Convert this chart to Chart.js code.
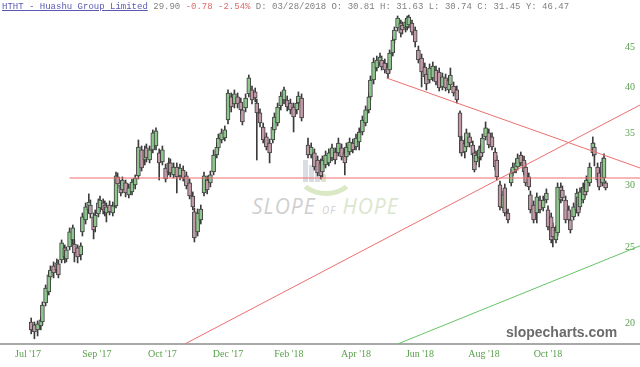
<!DOCTYPE html>
<html>
<head>
<meta charset="utf-8">
<script src="https://cdn.jsdelivr.net/npm/chart.js@4.4.1/dist/chart.umd.min.js"></script>
<style>
  html, body { margin: 0; padding: 0; background: #fff; }
  #wrap { position: relative; width: 640px; height: 367px; overflow: hidden; }
  #chart { position: absolute; left: 0; top: 0; z-index: 1; }
  #hdr { position: absolute; left: 2px; top: 2px; z-index: 3; white-space: pre;
         font: 9px "Liberation Mono", monospace; color: #808080; }
  #hdr .tk { color: #5a5ab4; text-decoration: underline; }
  #hdr .neg { color: #e06a6a; }
  #site { position: absolute; left: 506px; top: 324px; z-index: 3;
          font: bold 14px "Liberation Sans", Arial, sans-serif; color: #6b6b6b; }
  .wm { position: absolute; z-index: 0; }
  .wmbar { position: absolute; z-index: 0; background: #d9dde3; }
  #wmtext { position: absolute; left: 252px; top: 192px; z-index: 0; white-space: pre;
            font: italic 21px "Open Sans", sans-serif; color: #cfcfcf; letter-spacing: 1px; }
  #wmtext .of { font-size: 10px; }
  #wmtext .hope { color: #dbe6cf; }
</style>
</head>
<body>
<div id="wrap">
  <div class="wmbar" style="left:303px;top:160px;width:5px;height:22px"></div>
  <div class="wmbar" style="left:309px;top:165px;width:5px;height:17px"></div>
  <div class="wmbar" style="left:315px;top:170px;width:5px;height:12px"></div>
  <div class="wmbar" style="left:321px;top:174px;width:5px;height:8px;background:#e2e6c8"></div>
  <div class="wm" style="left:296px;top:150px;width:50px;height:36px;border:5px solid transparent;border-bottom-color:#dbe8c6;border-radius:50%"></div>
  <div id="wmtext">SLOPE <span class="of">OF</span> <span class="hope">HOPE</span></div>
  <canvas id="chart" width="640" height="367"></canvas>
  <div id="hdr"><span class="tk">HTHT - Huashu Group Limited</span> 29.90 <span class="neg">-0.78 -2.54%</span> D: 03/28/2018 O: 30.81 H: 31.63 L: 30.74 C: 31.45 Y: 46.47</div>
  <div id="site">slopecharts.com</div>
</div>
<script>
// trading day index of each candle (0 = first bar of Jul '17)
const days = [
  2, 4, 6, 8, 9, 11, 13, 14, 16, 18,
  19, 21, 23, 24, 26, 28, 29, 31, 33, 34,
  36, 38, 39, 41, 42, 44, 45, 47, 48, 49,
  51, 53, 55, 56, 58, 59, 61, 63, 65, 67,
  69, 71, 73, 74, 76, 78, 80, 82, 84, 86,
  88, 89, 91, 93, 95, 97, 99, 101, 103, 104,
  106, 108, 110, 112, 114, 116, 118, 119, 121, 123,
  125, 127, 129, 131, 133, 134, 136, 138, 140, 142,
  143, 145, 147, 149, 151, 153, 154, 156, 158, 160,
  162, 164, 166, 168, 169, 171, 175, 177, 179, 181,
  183, 184, 186, 188, 190, 192, 194, 196, 198, 199,
  201, 203, 205, 207, 209, 211, 213, 214, 216, 218,
  220, 221, 223, 225, 226, 228, 229, 231, 233, 234,
  236, 237, 238, 240, 242, 244, 246, 248, 249, 251,
  253, 255, 257, 259, 261, 263, 264, 266, 268, 270,
  271, 273, 274, 276, 278, 279, 280, 282, 283, 284,
  286, 288, 290, 292, 293, 295, 297, 298, 300, 302,
  303, 305, 306, 308, 310, 311, 313, 314, 316, 318,
  320, 322, 324, 325, 327, 328, 330, 331, 333, 334,
  336, 338, 339, 341, 343, 344, 345, 347, 348, 349,
  351, 353, 354, 356, 357, 359, 360, 361
];

const opens = [
  20.08, 19.91, 19.62, 19.85, 20.08, 21.24, 21.93, 22.92, 23.68, 23.40,
  23.82, 24.10, 24.97, 24.17, 25.04, 25.56, 25.26, 24.97, 24.46, 26.17,
  27.11, 27.92, 28.33, 27.35, 26.55, 27.59, 28.08, 28.50, 28.33, 27.67,
  28.33, 27.67, 28.25, 30.77, 30.05, 29.61, 30.23, 29.18, 29.44, 30.05,
  30.86, 33.31, 32.34, 33.51, 32.34, 33.31, 33.70, 33.02, 32.15, 31.59,
  31.22, 32.06, 30.95, 31.68, 30.86, 31.40, 30.86, 30.23, 29.09, 27.76,
  26.17, 27.11, 29.35, 30.49, 30.23, 31.22, 32.82, 33.51, 34.30, 34.50,
  36.38, 38.93, 38.13, 38.93, 38.36, 37.47, 37.69, 39.28, 39.74, 39.51,
  38.24, 37.14, 35.64, 34.61, 34.00, 34.30, 35.33, 36.06, 37.91, 38.58,
  38.58, 38.24, 37.80, 37.47, 38.24, 38.81, 33.80, 32.82, 33.02, 32.34,
  32.06, 31.22, 31.87, 32.06, 32.53, 33.11, 33.02, 33.51, 33.02, 32.63,
  33.11, 34.00, 33.60, 34.10, 35.12, 36.06, 37.47, 38.93, 40.92, 42.39,
  43.02, 43.40, 43.02, 42.52, 42.14, 44.30, 46.03, 47.69, 48.39, 48.11,
  47.69, 47.83, 48.11, 48.39, 47.40, 44.70, 43.66, 42.52, 41.65, 40.92,
  41.17, 42.14, 41.90, 40.09, 41.17, 39.74, 40.32, 40.20, 39.74, 37.14,
  34.30, 33.11, 33.60, 34.61, 33.80, 33.02, 32.15, 32.53, 33.51, 33.02,
  34.61, 35.02, 34.61, 33.11, 32.34, 30.05, 28.08, 29.79, 27.67, 30.23,
  31.13, 31.40, 31.68, 32.82, 32.34, 31.68, 30.77, 29.18, 28.33, 27.67,
  28.75, 28.08, 28.75, 27.92, 27.35, 26.55, 25.56, 26.09, 29.87, 29.61,
  28.75, 27.92, 27.11, 27.35, 27.92, 29.01, 28.17, 28.75, 29.79, 29.44,
  30.23, 33.02, 33.60, 31.68, 31.13, 30.23, 30.67, 30.23
];

const highs = [
  20.32, 20.08, 20.14, 20.38, 21.30, 22.39, 23.26, 23.68, 23.96, 24.17,
  24.10, 25.56, 25.19, 25.04, 26.48, 26.71, 25.56, 25.19, 25.34, 27.67,
  28.50, 29.27, 28.75, 27.67, 27.92, 28.84, 29.09, 28.84, 28.67, 28.50,
  28.67, 28.58, 31.22, 31.13, 30.40, 30.77, 30.49, 30.14, 30.58, 30.95,
  34.30, 33.70, 33.70, 33.90, 33.70, 35.33, 35.54, 33.41, 33.70, 31.96,
  32.53, 32.44, 32.06, 32.06, 31.96, 31.78, 31.22, 30.58, 29.44, 28.08,
  28.00, 28.33, 31.22, 30.86, 31.31, 33.31, 34.00, 34.91, 35.43, 35.75,
  39.74, 39.39, 39.74, 39.39, 38.81, 37.91, 39.28, 41.53, 40.20, 39.97,
  38.69, 37.58, 36.06, 35.02, 34.40, 36.06, 37.14, 38.24, 39.51, 40.09,
  39.04, 38.69, 38.24, 38.69, 39.51, 39.28, 34.50, 34.00, 33.41, 32.72,
  32.44, 32.72, 33.21, 33.41, 33.90, 33.51, 34.50, 33.90, 33.41, 34.00,
  34.50, 34.40, 34.91, 35.54, 36.81, 37.91, 39.39, 41.41, 43.66, 43.91,
  44.30, 43.91, 43.53, 43.02, 44.70, 46.44, 47.83, 49.40, 48.82, 48.54,
  48.96, 49.40, 49.54, 48.82, 47.83, 45.23, 44.17, 43.02, 42.14, 42.90,
  43.15, 42.64, 42.39, 41.77, 41.65, 41.41, 42.39, 40.68, 40.20, 37.36,
  34.71, 34.40, 35.43, 35.02, 34.20, 33.41, 33.21, 33.70, 33.90, 34.91,
  36.17, 35.43, 35.02, 33.51, 32.72, 30.40, 29.52, 30.14, 28.00, 31.50,
  32.06, 32.44, 32.92, 33.11, 32.72, 32.06, 31.13, 29.52, 28.67, 29.35,
  29.09, 29.09, 29.70, 28.25, 27.67, 26.87, 26.63, 30.23, 30.23, 29.96,
  29.09, 28.25, 27.43, 28.50, 29.70, 29.35, 29.79, 30.23, 30.14, 30.86,
  32.06, 34.61, 34.00, 32.06, 31.50, 32.53, 32.92, 30.40
];

const lows = [
  19.39, 19.11, 19.27, 19.62, 19.91, 21.05, 21.74, 22.72, 22.86, 23.20,
  22.86, 23.89, 23.89, 23.96, 24.82, 25.26, 23.96, 23.89, 24.10, 25.86,
  26.79, 27.67, 27.27, 25.64, 26.17, 27.35, 27.76, 27.59, 27.43, 26.95,
  27.51, 27.43, 28.08, 29.79, 29.09, 29.35, 29.01, 28.92, 29.18, 29.70,
  30.58, 31.31, 31.87, 32.15, 32.06, 33.02, 33.31, 30.49, 31.87, 30.31,
  30.95, 30.77, 30.67, 29.35, 30.49, 30.40, 29.70, 28.84, 27.92, 25.41,
  25.86, 26.79, 29.09, 29.27, 29.87, 30.95, 32.53, 33.21, 34.00, 34.20,
  35.96, 37.25, 37.69, 37.69, 37.03, 35.85, 37.25, 38.93, 38.13, 38.36,
  32.34, 35.64, 34.00, 33.31, 32.06, 34.00, 35.02, 35.75, 37.47, 38.13,
  37.36, 37.03, 35.12, 37.03, 37.80, 36.27, 32.53, 32.53, 31.40, 30.86,
  30.58, 30.77, 31.59, 31.78, 32.25, 31.96, 32.72, 32.34, 30.95, 32.34,
  32.82, 33.02, 33.31, 33.31, 34.81, 35.75, 37.14, 38.58, 40.44, 42.02,
  42.64, 42.14, 41.77, 41.17, 41.77, 43.91, 45.62, 47.26, 46.44, 46.85,
  47.12, 47.40, 47.69, 46.71, 45.10, 43.02, 40.09, 40.92, 39.74, 40.56,
  40.80, 40.32, 39.62, 39.74, 39.62, 39.39, 39.97, 39.04, 38.24, 33.02,
  32.72, 32.53, 33.31, 33.60, 32.53, 31.22, 31.87, 31.68, 32.34, 32.72,
  34.30, 33.51, 33.31, 31.40, 30.49, 27.92, 27.84, 27.43, 26.87, 29.96,
  30.86, 31.13, 31.40, 31.78, 30.95, 29.96, 29.61, 27.67, 26.87, 26.87,
  27.67, 27.84, 28.50, 26.32, 25.34, 25.04, 25.34, 25.86, 28.50, 28.67,
  26.87, 26.87, 26.09, 27.11, 27.67, 27.43, 27.92, 28.50, 28.92, 29.18,
  29.96, 32.72, 31.78, 30.23, 29.61, 29.96, 30.40, 29.61
];

const closes = [
  19.62, 19.50, 19.97, 20.20, 21.11, 22.19, 23.06, 23.40, 23.20, 23.89,
  23.06, 25.34, 24.32, 24.82, 26.17, 26.48, 24.60, 24.32, 25.12, 27.35,
  28.17, 28.58, 27.59, 26.32, 27.51, 28.50, 28.75, 27.92, 27.76, 28.17,
  27.76, 28.25, 30.86, 30.14, 29.35, 30.49, 29.35, 29.79, 30.31, 30.67,
  33.60, 31.59, 33.31, 32.53, 33.31, 35.02, 35.23, 32.06, 33.31, 30.58,
  32.06, 31.13, 31.68, 30.77, 31.59, 30.67, 29.96, 29.09, 28.17, 25.71,
  27.67, 28.00, 30.86, 29.61, 30.95, 32.82, 33.60, 34.50, 35.02, 35.33,
  39.39, 37.80, 39.28, 38.13, 37.47, 36.17, 38.81, 41.17, 38.58, 38.81,
  37.14, 36.06, 34.30, 33.60, 33.02, 35.64, 36.70, 37.80, 39.04, 39.74,
  37.80, 37.47, 36.70, 38.24, 39.04, 36.60, 32.82, 33.60, 31.68, 31.13,
  30.86, 32.34, 32.82, 33.02, 33.51, 32.34, 34.00, 32.63, 32.06, 33.60,
  34.10, 33.31, 34.50, 35.12, 36.38, 37.47, 38.93, 40.92, 43.15, 43.40,
  43.78, 42.52, 42.14, 41.65, 44.30, 46.03, 47.40, 49.11, 46.98, 47.40,
  48.54, 49.11, 49.26, 47.12, 45.76, 43.40, 41.90, 41.29, 40.44, 42.39,
  42.64, 40.68, 39.97, 41.29, 39.97, 40.92, 41.53, 39.39, 38.58, 34.61,
  33.02, 34.00, 35.02, 34.00, 32.82, 31.40, 32.82, 33.31, 32.63, 34.50,
  35.54, 33.80, 33.60, 31.68, 30.77, 28.17, 29.18, 27.67, 27.11, 31.13,
  31.68, 32.06, 32.53, 32.06, 31.22, 30.23, 29.87, 27.92, 27.11, 29.01,
  27.92, 28.75, 29.35, 26.55, 25.56, 25.79, 26.32, 29.87, 28.75, 28.92,
  27.11, 27.11, 26.32, 28.17, 29.35, 27.67, 29.44, 29.87, 29.18, 30.49,
  31.68, 34.00, 32.82, 30.49, 29.87, 32.15, 32.53, 29.79
];

// axis ticks
const yTickValues = [20, 25, 30, 35, 40, 45];
const xTickDays = [0, 43, 84, 125, 163, 205, 245, 285, 325];
const xTickLabels = ["Jul '17", "Sep '17", "Oct '17", "Dec '17", "Feb '18", "Apr '18", "Jun '18", "Aug '18", "Oct '18"];

// hand drawn trend lines: [day, price]
const flatLine = [[26, 30.67], [382.5, 30.67]];
const fallingLine = [[224, 41.17], [382.5, 31.59]];
const risingLine = [[98, 18.82], [382.5, 38.02]];
const supportLine = [[231, 18.82], [382.5, 25.12]];

const bodies = days.map((d, i) => ({ x: d, y: [Math.min(opens[i], closes[i]), Math.max(opens[i], closes[i])] }));
const wicks = days.map((d, i) => ({ x: d, y: [lows[i], highs[i]] }));
const bodyColors = days.map((d, i) => closes[i] >= opens[i] ? '#8ec68e' : '#c29aa8');

function trend(points, color) {
  return {
    type: 'line',
    data: points.map(p => ({ x: p[0], y: p[1] })),
    borderColor: color,
    borderWidth: 1,
    pointRadius: 0,
    fill: false,
    order: 0,
  };
}

const ctx = document.getElementById('chart').getContext('2d');
new Chart(ctx, {
  type: 'bar',
  data: {
    datasets: [
      trend(flatLine, '#ee6f6f'),
      trend(fallingLine, '#ee6f6f'),
      trend(risingLine, '#ee6f6f'),
      trend(supportLine, '#67c467'),
      {
        data: bodies,
        backgroundColor: bodyColors,
        borderColor: '#3c3c3c',
        borderWidth: 1,
        borderSkipped: false,
        barThickness: 4,
        grouped: false,
        order: 1,
      },
      {
        data: wicks,
        backgroundColor: '#3c3c3c',
        borderWidth: 0,
        barThickness: 1,
        grouped: false,
        order: 2,
      },
    ],
  },
  options: {
    responsive: false,
    animation: false,
    devicePixelRatio: 1,
    layout: { padding: { left: 0, right: 0, top: 0, bottom: 7 } },
    plugins: {
      legend: { display: false },
      tooltip: { enabled: false },
    },
    scales: {
      x: {
        type: 'linear',
        min: -17.5,
        max: 382.5,
        offset: false,
        grid: { display: false, drawTicks: false },
        border: { display: true, color: '#a9a9a9', width: 2 },
        afterBuildTicks: (scale) => { scale.ticks = xTickDays.map(v => ({ value: v })); },
        afterFit: (scale) => {
          scale.height = 16;
          scale.paddingLeft = 0;
          scale.paddingRight = 0;
        },
        ticks: {
          autoSkip: false,
          maxRotation: 0,
          padding: 4,
          color: '#5aa04c',
          font: { family: 'Liberation Serif', size: 10 },
          callback: (v, i) => xTickLabels[i],
        },
      },
      y: {
        type: 'logarithmic',
        position: 'right',
        min: 18.82,
        max: 51.78,
        beginAtZero: false,
        grid: { display: false, drawTicks: false },
        border: { display: false },
        afterBuildTicks: (scale) => { scale.ticks = yTickValues.map(v => ({ value: v })); },
        afterFit: (scale) => {
          scale.width = 0;
          scale.paddingTop = 0;
          scale.paddingBottom = 0;
        },
        ticks: {
          mirror: true,
          autoSkip: false,
          padding: -5,
          color: '#5aa04c',
          font: { family: 'Liberation Serif', size: 10 },
          callback: (v) => String(v),
        },
      },
    },
  },
});
</script>
</body>
</html>
